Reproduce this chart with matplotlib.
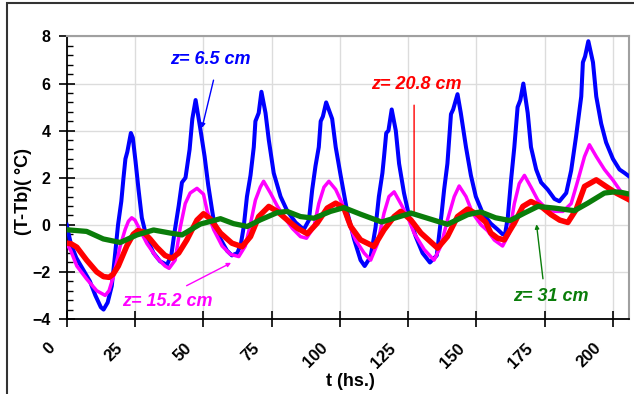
import matplotlib
matplotlib.use("Agg")
import matplotlib.pyplot as plt
import matplotlib.transforms as mtransforms
from matplotlib.ticker import MultipleLocator

plt.rcParams["font.family"] = ["Liberation Sans", "DejaVu Sans"]
plt.rcParams["font.weight"] = "bold"

# z = 6.5 cm
t_blue = [0, 1.5, 3.5, 6, 8.5, 10.5, 12.5, 13.5, 15, 16.5, 17.5, 18.8, 20, 20.8, 21.5, 22.2,
          23.5, 24.2, 25.2, 26.3, 27.5, 29.4, 31.8, 34.2, 36.7, 38.3, 39.5, 41, 42.2, 43.5,
          45, 46, 47.2, 48.9, 50.5, 51.8, 53.8, 56.3, 58.7, 60.5, 62.5, 63.8, 64.8, 66, 67.3,
          68.5, 69.1, 70.3, 71.3, 72.8, 74, 75.8, 78.3, 80.7, 83.8, 86.8, 88.7, 89.9, 91.1,
          92.3, 93, 93.8, 95, 97.2, 98.5, 100.3, 102.8, 105.2, 107.6, 109.1, 111.3, 113.1,
          114.3, 115.6, 116.2, 117, 117.8, 119, 120.5, 121.7, 123.5, 125.4, 127.8, 130.3,
          133, 135.5, 136.5, 137.3, 138.2, 139.4, 140, 140.7, 141.5, 143.1, 144.3, 146.2,
          148, 149.8, 152.3, 155.3, 157.8, 159.6, 160.5, 161.5, 162.7, 163.9, 165.1, 166.1,
          167.2, 168.8, 170, 171.9, 173.7, 176.1, 178.6, 180.4, 182.9, 184.7, 186.5, 188.4,
          189, 189.8, 191, 192.7, 193.9, 195.7, 197.5, 200, 202.4, 204.3, 206]
v_blue = [0.0, -0.8, -1.4, -1.9, -2.4, -3.0, -3.5, -3.6, -3.3, -2.6, -1.5, 0.0, 1.0, 2.0, 2.8, 3.1,
          3.9, 3.7, 2.7, 1.5, 0.3, -0.6, -1.2, -1.55, -1.7, -1.3, -0.3, 0.8, 1.8, 2.0,
          3.2, 4.5, 5.3, 4.1, 2.9, 1.7, 0.2, -0.6, -1.1, -1.3, -1.2, -0.8, -0.1, 1.2, 2.1,
          3.3, 4.4, 4.75, 5.65, 4.75, 3.6, 2.2, 1.2, 0.6, 0.1, -0.2, 0.2, 1.5, 2.5,
          3.3, 4.4, 4.6, 5.2, 4.5, 3.3, 2.1, 0.5, -0.6, -1.5, -1.75, -1.35, -0.1,
          1.2, 2.2, 2.9, 3.9, 4.0, 4.9, 4.0, 2.6, 1.35, 0.35, -0.5, -1.2,
          -1.6, -1.3, -0.3, 0.5, 1.5, 2.6, 3.6, 4.7, 4.9, 5.55, 4.75, 3.3,
          2.1, 1.2, 0.5, 0.05, -0.2, -0.4, -0.4, 0.3, 1.9, 3.3, 5.0, 5.3,
          6.0, 4.75, 3.3, 2.35, 1.8, 1.5, 1.1, 1.0, 1.35, 2.3, 3.75, 5.45,
          6.9, 7.15, 7.8, 6.9, 5.45, 4.3, 3.5, 2.8, 2.35, 2.2, 2.05]

# z = 15.2 cm
t_mag = [0, 1.5, 3.7, 7.3, 11, 14.1, 15.5, 17.1, 19.6, 21.4, 22.6, 23.8, 25, 26.3, 29.4, 33,
         36, 37.5, 39.7, 41.6, 43.4, 45.2, 47.7, 50.1, 51.4, 53.8, 56.9, 59.9, 63, 65.4,
         67.3, 69.1, 70.9, 72.1, 74.6, 77.1, 79.5, 82.6, 85.6, 87.8, 90.5, 92.3, 94.2, 96,
         98.5, 100.9, 102.8, 105.8, 108.9, 111.3, 113.8, 116.2, 118, 119.9, 122.3, 124.8,
         127.2, 130.9, 134.5, 137, 139.4, 141.9, 143.7, 146.2, 148.6, 151.7, 154.1, 156.6,
         159.6, 162.1, 163.9, 165.7, 167.6, 170, 172.5, 175.5, 178.6, 181.7, 184.7, 187.2,
         189.6, 191.4, 193.9, 196.9, 200, 203, 206]
v_mag = [-0.8, -1.1, -1.75, -2.3, -2.8, -3.0, -2.8, -2.2, -0.9, -0.2, 0.15, 0.3, 0.2, -0.1, -0.8, -1.4,
         -1.75, -1.85, -1.5, -0.1, 0.9, 1.35, 1.55, 1.3, 0.6, -0.2, -0.9, -1.25, -1.35, -0.9,
         0.05, 1.05, 1.6, 1.85, 1.35, 0.8, 0.35, -0.15, -0.5, -0.57, -0.1, 0.9, 1.6, 1.85,
         1.5, 0.9, 0.2, -0.65, -1.2, -1.5, -0.8, 0.5, 1.2, 1.4, 0.9, 0.35,
         -0.35, -1.05, -1.5, -0.9, 0.2, 1.2, 1.65, 1.2, 0.5, 0.0, -0.25, -0.65,
         -0.9, -0.35, 0.9, 1.75, 2.1, 1.6, 1.05, 0.7, 0.57, 0.57, 0.9, 1.9,
         2.9, 3.4, 2.9, 2.35, 1.9, 1.4, 1.1]

# z = 20.8 cm
t_red = [0, 1.5, 3.7, 7.3, 11, 13.5, 15.5, 17, 18.9, 22, 24.4, 26, 28, 30.5, 33, 36, 38.5, 41,
         44, 47.7, 50.1, 52.6, 56.3, 60.5, 64.2, 67.3, 70.3, 74, 77.1, 80.7, 84.4, 88.1,
         91.7, 95.4, 98.5, 101.5, 104, 107.6, 112.5, 116.2, 119.9, 122.3, 126, 129.7, 135.8,
         139.4, 143.1, 146.8, 150.5, 153.5, 155.3, 157.8, 160.2, 163.9, 167, 170, 173.7,
         177.4, 180.5, 183.5, 186.5, 189.6, 193.9, 197.5, 201.2, 206]
v_red = [-0.78, -0.8, -0.95, -1.5, -2.0, -2.2, -2.23, -2.1, -1.75, -0.9, -0.4, -0.25, -0.3, -0.6, -0.95, -1.3, -1.42, -1.2,
         -0.64, 0.2, 0.47, 0.25, -0.35, -0.78, -0.93, -0.5, 0.35, 0.78, 0.57, 0.21, -0.14, -0.38,
         0.07, 0.71, 0.92, 0.71, -0.07, -0.64, -0.92, -0.21, 0.35, 0.57, 0.21, -0.35, -0.99,
         -0.5, 0.35, 0.67, 0.43, 0.1, -0.35, -0.57, -0.64, 0.07, 0.78, 0.99, 0.78,
         0.43, 0.2, 0.1, 0.64, 1.63, 1.91, 1.63, 1.35, 1.06]

# z = 31 cm
t_green = [0, 7.3, 13.4, 19.6, 25.7, 31.8, 37.9, 42.2, 48.9, 56.3, 61.1, 66.1, 70.9, 77.1, 80.7,
           85.6, 90.5, 96.6, 101.5, 107.6, 115.3, 124.8, 126, 131, 139.4, 146.8, 151.5, 157,
           162.3, 167.6, 172.5, 178.6, 185.9, 190.8, 196.9, 200.6, 203, 206.1]
v_green = [-0.21, -0.28, -0.6, -0.75, -0.43, -0.22, -0.35, -0.43, 0.03, 0.26, 0.05, -0.07, 0.21, 0.52, 0.57,
           0.35, 0.28, 0.57, 0.73, 0.45, 0.12, 0.45, 0.5, 0.32, 0.02, 0.43, 0.55, 0.3,
           0.18, 0.5, 0.78, 0.71, 0.6, 0.92, 1.35, 1.4, 1.38, 1.3]

x_ticks = [0, 25, 50, 75, 100, 125, 150, 175, 200]
y_ticks = [-4, -2, 0, 2, 4, 6, 8]

fig = plt.figure(figsize=(6.34, 3.94), dpi=100)
ax = fig.add_axes([0.1052, 0.1904, 0.8874, 0.717])

ax.plot(t_blue, v_blue, color="#0000ff", lw=2.9, solid_joinstyle="round", zorder=3)
ax.plot(t_mag, v_mag, color="#ff00ff", lw=2.5, solid_joinstyle="round", zorder=4)
ax.plot(t_red, v_red, color="#ff0000", lw=4.0, solid_joinstyle="round", zorder=5)
ax.plot(t_green, v_green, color="#0a7d0a", lw=3.8, solid_joinstyle="round", zorder=6)

ax.set_xlim(0, 206)
ax.set_ylim(-4, 8)
ax.set_xticks(x_ticks)
ax.set_yticks(y_ticks)
ax.yaxis.set_minor_locator(MultipleLocator(0.4))
ax.grid(True, which="major", color="#dcdcdc", lw=1.0)
ax.set_axisbelow(True)

ax.tick_params(axis="both", which="major", direction="inout", length=11, width=1.2,
               labelsize=11.5, color="black")
ax.tick_params(axis="x", labelsize=12, pad=10)
ax.tick_params(axis="y", which="minor", direction="in", length=4, width=1.0)
ax.tick_params(axis="y", pad=6)
for lab in ax.get_xticklabels():
    lab.set_rotation(45)
    lab.set_ha("right")
    lab.set_fontweight("bold")
    lab.set_transform(lab.get_transform() + mtransforms.ScaledTranslation(-0.09, 0, fig.dpi_scale_trans))
for lab in ax.get_yticklabels():
    lab.set_fontweight("bold")

for side in ("left", "bottom"):
    ax.spines[side].set_color("black")
    ax.spines[side].set_linewidth(1.3)
for side in ("top", "right"):
    ax.spines[side].set_color("#a0a0a0")
    ax.spines[side].set_linewidth(1.5)

fig.text(350 / 634, 1 - 381 / 394, "t (hs.)", fontsize=13, fontweight="bold",
         ha="center", va="center")
fig.text(23 / 634, 1 - 191 / 394, "(T-Tb)( °C)", fontsize=13, fontweight="bold",
         rotation=90, ha="center", va="center")

akw = dict(fontsize=13, fontweight="bold", fontstyle="italic", ha="center", va="center")
ax.text(52.6, 7.02, "z= 6.5 cm", color="#0000ff", **akw)
ax.annotate("", xy=(49.3, 4.0), xytext=(54, 6.26),
            arrowprops=dict(arrowstyle="-|>", color="#0000ff", lw=1.0, mutation_scale=6))
ax.text(128.2, 5.96, "z= 20.8 cm", color="#ff0000", **akw)
ax.annotate("", xy=(127.2, 0.35), xytext=(127.2, 5.2),
            arrowprops=dict(arrowstyle="-", color="#ff0000", lw=1.0))
ax.text(37, -3.26, "z= 15.2 cm", color="#ff00ff", **akw)
ax.annotate("", xy=(61.1, -1.56), xytext=(43, -2.64),
            arrowprops=dict(arrowstyle="-|>", color="#ff00ff", lw=1.0, mutation_scale=6))
ax.text(177.4, -3.04, "z= 31 cm", color="#0a7d0a", **akw)
ax.annotate("", xy=(171.9, 0.14), xytext=(174.5, -2.41),
            arrowprops=dict(arrowstyle="-|>", color="#0a7d0a", lw=1.0, mutation_scale=6))

# outer frame of the figure
frame = plt.Rectangle((7 / 634, -0.05), 1.2, 1 - 3.5 / 394 + 0.05, transform=fig.transFigure,
                      fill=False, edgecolor="#333333", lw=1.5)
fig.patches.append(frame)

fig.savefig("out.png", dpi=100)
